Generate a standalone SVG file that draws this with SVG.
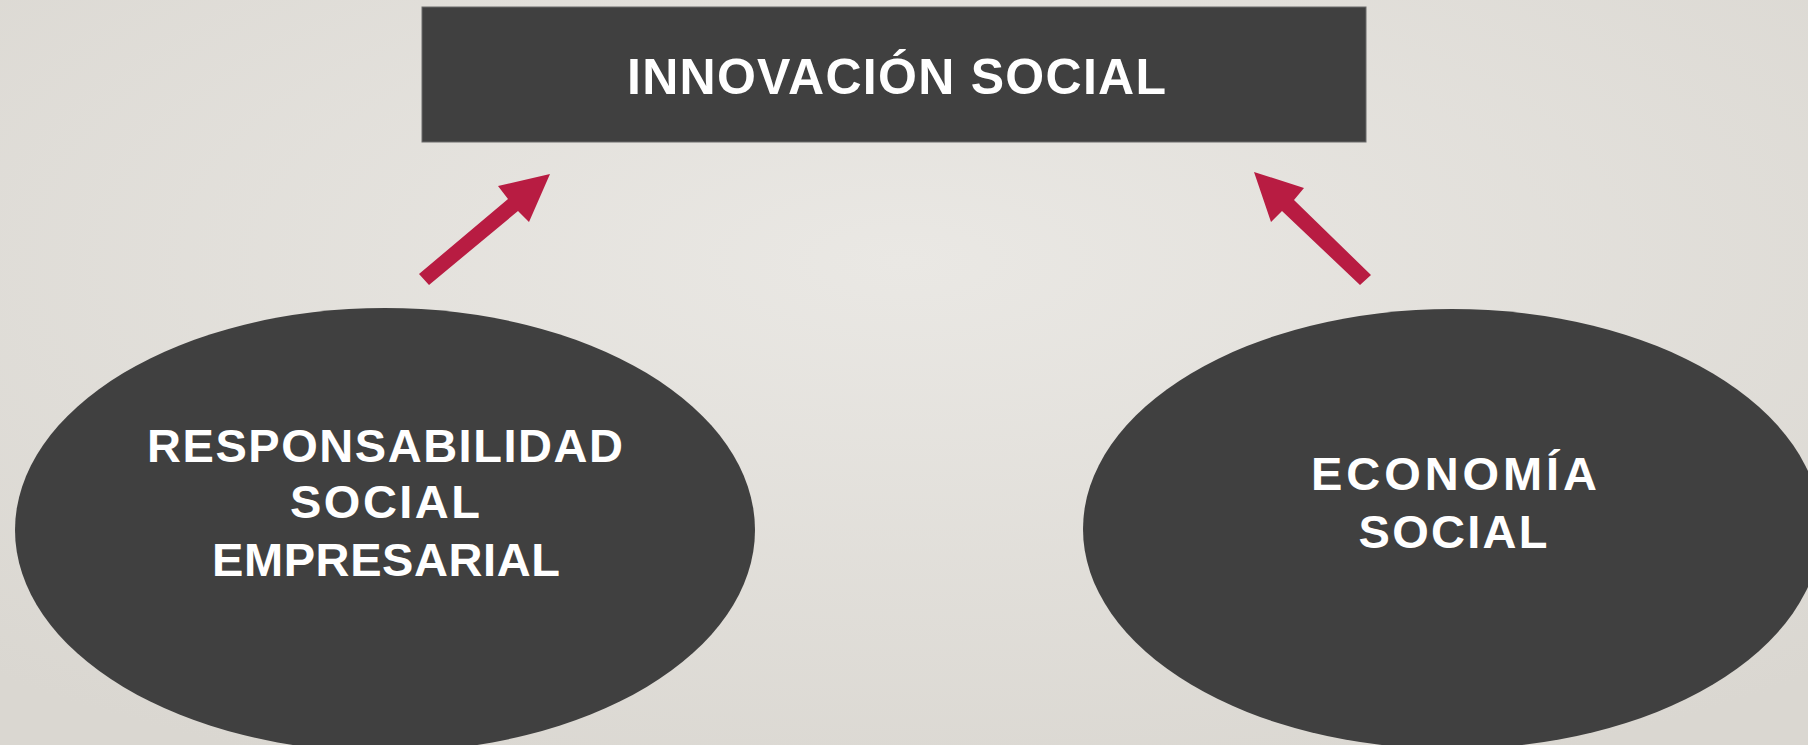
<svg xmlns="http://www.w3.org/2000/svg" width="1808" height="745" viewBox="0 0 1808 745">
  <defs>
    <radialGradient id="bg" cx="0.5" cy="0.35" r="0.75">
      <stop offset="0" stop-color="#EAE8E4"/>
      <stop offset="1" stop-color="#DAD7D1"/>
    </radialGradient>
  </defs>
  <style>
    .shape { fill: #404040; }
    .lbl { font-family: "Liberation Sans", Arial, sans-serif; font-weight: bold; fill: #FFFFFF; text-anchor: middle; }
    .arrow { fill: #B81C42; }
  </style>
  <rect x="0" y="0" width="1808" height="745" fill="url(#bg)"/>
  <g id="node-innovacion">
    <rect class="shape" x="422" y="7" width="944" height="135" stroke="#6A6A6A" stroke-width="1"/>
    <text class="lbl" x="896.5" y="94" font-size="50" textLength="539" lengthAdjust="spacing">INNOVACIÓN SOCIAL</text>
  </g>
  <g id="node-rse">
    <ellipse class="shape" cx="385" cy="530" rx="370" ry="222"/>
    <text class="lbl" x="385" y="462" font-size="47" textLength="476" lengthAdjust="spacing">RESPONSABILIDAD</text>
    <text class="lbl" x="385" y="518" font-size="47" textLength="190" lengthAdjust="spacing">SOCIAL</text>
    <text class="lbl" x="386" y="576" font-size="47" textLength="348" lengthAdjust="spacing">EMPRESARIAL</text>
  </g>
  <g id="node-economia">
    <ellipse class="shape" cx="1452" cy="529" rx="369" ry="220"/>
    <text class="lbl" x="1454" y="490" font-size="47" textLength="286" lengthAdjust="spacing">ECONOMÍA</text>
    <text class="lbl" x="1453" y="548" font-size="47" textLength="189" lengthAdjust="spacing">SOCIAL</text>
  </g>
  <g id="connectors">
    <polygon class="arrow" points="419,274 508,199 498,186 550,174 529,222 518,211 429,285"/>
    <polygon class="arrow" points="1371,275 1294,200 1304,188 1254,172 1271,222 1282,211 1360,285"/>
  </g>
</svg>
